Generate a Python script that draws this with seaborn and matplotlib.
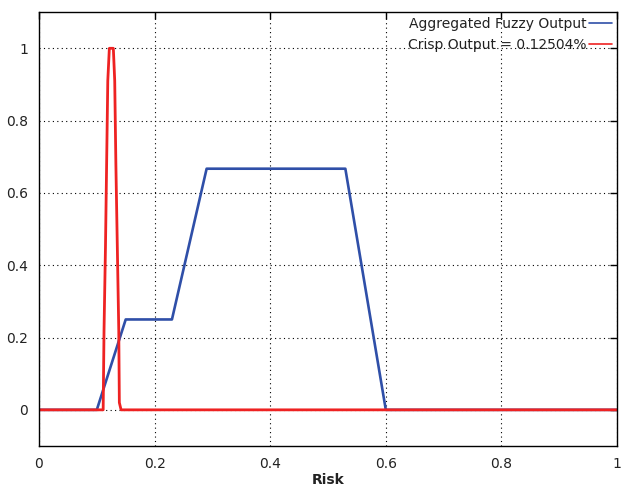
import matplotlib
matplotlib.use("Agg")
import matplotlib.pyplot as plt
import seaborn as sns
import numpy as np

# aggregated fuzzy output (piecewise)
risk_agg = [0.0, 0.10, 0.15, 0.23, 0.29, 0.53, 0.60, 1.0]
mu_agg = [0.0, 0.0, 0.25, 0.25, 0.667, 0.667, 0.0, 0.0]

# crisp output spike
risk_crisp = [0.0, 0.111, 0.1125, 0.115, 0.117, 0.119, 0.1217, 0.1286,
              0.131, 0.133, 0.1355, 0.138, 0.139, 0.142, 1.0]
mu_crisp = [0.0, 0.0, 0.22, 0.45, 0.68, 0.91, 1.0, 1.0,
            0.91, 0.68, 0.45, 0.22, 0.02, 0.0, 0.0]

crisp_value = "0.12504"
x_ticks = [0, 0.2, 0.4, 0.6, 0.8, 1]
x_ticklabels = ["0", "0.2", "0.4", "0.6", "0.8", "1"]
y_ticks = [0, 0.2, 0.4, 0.6, 0.8, 1]
y_ticklabels = ["0", "0.2", "0.4", "0.6", "0.8", "1"]

sns.set_style("white")
plt.rcParams['font.family'] = ['DejaVu Sans']
plt.rcParams['text.color'] = 'black'

fig = plt.figure(figsize=(6.22, 4.86), dpi=100)
ax = fig.add_axes([0.0627, 0.0823, 0.9293, 0.8927])

sns.lineplot(x=risk_agg, y=mu_agg, ax=ax, color='#2f4fa8', linewidth=1.9,
             sort=False, estimator=None, label='Aggregated Fuzzy Output')
sns.lineplot(x=risk_crisp, y=mu_crisp, ax=ax, color='#ee2222', linewidth=2.0,
             sort=False, estimator=None, label=f'Crisp Output = {crisp_value}%')

ax.set_xlim(0, 1)
ax.set_ylim(-0.1, 1.1)
ax.set_xticks(x_ticks)
ax.set_xticklabels(x_ticklabels)
ax.set_yticks(y_ticks)
ax.set_yticklabels(y_ticklabels)
ax.tick_params(direction='in', length=5, width=1, top=True, right=True,
               labelsize=10, colors='black', labelcolor='#222222', pad=8)
for s in ax.spines.values():
    s.set_color('black')
    s.set_linewidth(1)
ax.grid(True, linestyle=(0, (1, 3)), color='black', linewidth=0.8)
ax.set_xlabel('Risk', fontsize=10, fontweight='bold', labelpad=1, color='#222222')
ax.set_ylabel('')

leg = ax.legend(loc='upper right', frameon=False, markerfirst=False,
                fontsize=10, handlelength=1.7, handletextpad=0.15,
                borderaxespad=0.05, borderpad=0.3, labelspacing=0.5)
for line in leg.get_lines():
    line.set_linewidth(1.2)
for t in leg.get_texts():
    t.set_color('#222222')

fig.savefig('out.png', dpi=100)
